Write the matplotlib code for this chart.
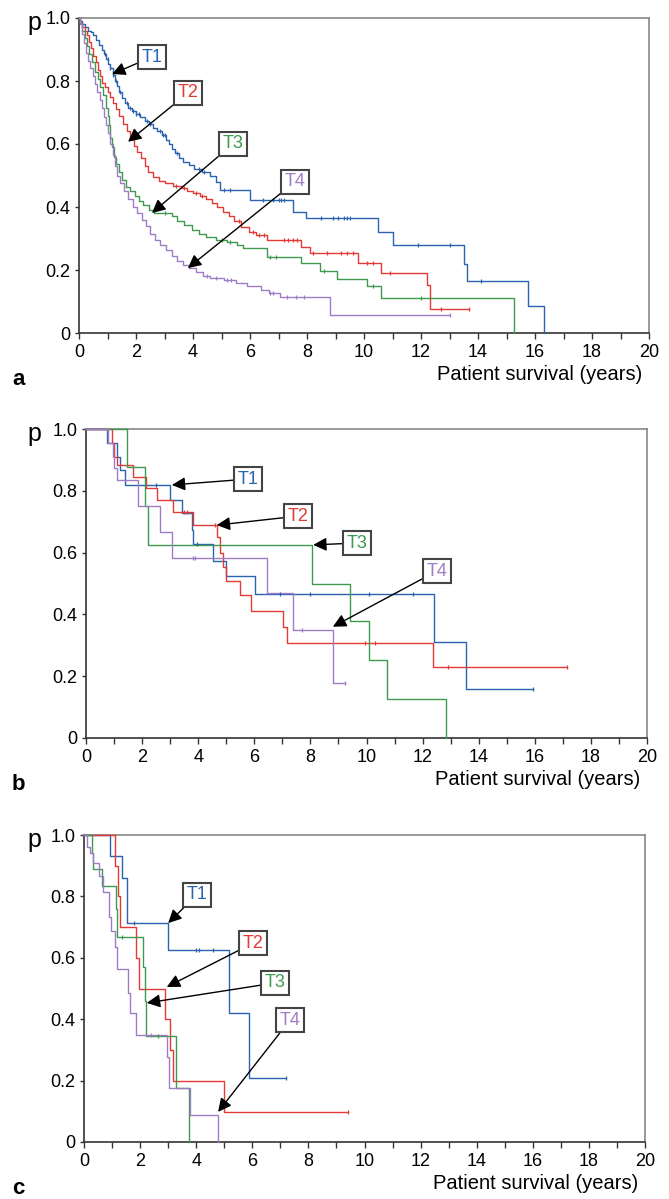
import numpy as np
import matplotlib
matplotlib.use("Agg")
import matplotlib.pyplot as plt
from matplotlib.ticker import MultipleLocator, FuncFormatter

plt.rcParams["font.family"] = ["Liberation Sans", "DejaVu Sans"]

W, H = 669, 1199

GROUPS = ["T1", "T2", "T3", "T4"]
COLORS = {"T1": "#2a64b0", "T2": "#e23a35", "T3": "#3f9a4f", "T4": "#a07cc6"}

# ──────────────────────────────────────────────
# panel a – all patients
# ──────────────────────────────────────────────
a_t1_time = [0.05, 0.12, 0.2, 0.3, 0.42, 0.5, 0.6, 0.7, 0.8, 0.88, 0.95, 1.02, 1.1, 1.18,
             1.25, 1.32, 1.4, 1.5, 1.6, 1.72, 1.85, 2.0, 2.15, 2.3, 2.45, 2.6, 2.75, 2.9,
             3.05, 3.15, 3.28, 3.38, 3.5, 3.65, 3.85, 4.05, 4.3, 4.6, 4.8, 4.95, 6.0, 7.5,
             7.95, 10.5, 11.0, 13.5, 13.6, 15.75, 16.3]
a_t1_surv = [0.99, 0.98, 0.97, 0.96, 0.955, 0.945, 0.93, 0.915, 0.9, 0.885, 0.87, 0.855,
             0.84, 0.82, 0.8, 0.785, 0.765, 0.745, 0.73, 0.715, 0.705, 0.695, 0.685, 0.672,
             0.662, 0.65, 0.64, 0.628, 0.612, 0.6, 0.585, 0.57, 0.555, 0.543, 0.532, 0.52,
             0.51, 0.5, 0.48, 0.455, 0.422, 0.384, 0.365, 0.32, 0.28, 0.22, 0.165, 0.087, 0.0]
a_t1_cens = [0.9, 1.0, 1.1, 1.2, 1.3, 1.45, 1.7, 1.8, 1.9, 2.0, 2.1, 2.4, 2.5, 2.85, 2.95,
             3.0, 3.45, 4.2, 4.4, 5.1, 5.3, 6.45, 6.8, 7.0, 7.1, 7.2, 8.5, 8.9, 9.1, 9.3,
             9.4, 9.5, 11.9, 13.0, 14.1]

a_t2_time = [0.05, 0.12, 0.2, 0.28, 0.35, 0.42, 0.5, 0.58, 0.66, 0.74, 0.82, 0.9, 1.0, 1.1,
             1.2, 1.3, 1.42, 1.55, 1.68, 1.8, 1.92, 2.05, 2.18, 2.3, 2.42, 2.6, 2.8, 3.0,
             3.3, 3.6, 3.8, 4.0, 4.25, 4.45, 4.65, 4.85, 5.05, 5.25, 5.45, 5.7, 5.95, 6.2,
             6.6, 7.8, 8.1, 9.8, 10.6, 12.2, 12.3, 13.7]
a_t2_surv = [0.985, 0.97, 0.96, 0.945, 0.925, 0.905, 0.88, 0.86, 0.835, 0.815, 0.795, 0.78,
             0.765, 0.75, 0.73, 0.71, 0.69, 0.665, 0.64, 0.615, 0.595, 0.575, 0.555, 0.53,
             0.51, 0.495, 0.482, 0.475, 0.468, 0.46, 0.452, 0.444, 0.435, 0.425, 0.412, 0.4,
             0.385, 0.37, 0.355, 0.338, 0.322, 0.31, 0.296, 0.272, 0.254, 0.222, 0.19, 0.152,
             0.076, 0.076]
a_t2_cens = [3.4, 3.7, 4.1, 4.3, 5.6, 6.1, 6.3, 6.5, 7.2, 7.35, 7.5, 7.65, 8.2, 8.7, 9.2,
             9.4, 9.6, 10.1, 10.3, 10.9, 12.7, 13.7]

a_t3_time = [0.05, 0.12, 0.2, 0.28, 0.36, 0.45, 0.55, 0.65, 0.75, 0.85, 0.95, 1.02, 1.06,
             1.1, 1.15, 1.22, 1.3, 1.4, 1.52, 1.65, 1.8, 1.95, 2.1, 2.25, 2.45, 2.62, 3.25,
             3.45, 3.7, 3.95, 4.2, 4.45, 4.8, 5.2, 5.55, 5.75, 6.6, 7.8, 8.46, 9.05, 10.1,
             10.6, 15.25]
a_t3_surv = [0.98, 0.96, 0.935, 0.91, 0.885, 0.86, 0.83, 0.805, 0.78, 0.755, 0.715, 0.69,
             0.66, 0.62, 0.59, 0.56, 0.535, 0.51, 0.485, 0.465, 0.45, 0.435, 0.42, 0.405,
             0.39, 0.38, 0.37, 0.355, 0.342, 0.328, 0.315, 0.305, 0.295, 0.288, 0.28, 0.27,
             0.242, 0.222, 0.197, 0.172, 0.148, 0.111, 0.0]
a_t3_cens = [3.0, 5.0, 5.3, 6.7, 6.9, 8.6, 10.3, 12.0]

a_t4_time = [0.04, 0.1, 0.17, 0.25, 0.33, 0.4, 0.48, 0.56, 0.64, 0.72, 0.8, 0.88, 0.95,
             1.02, 1.1, 1.18, 1.26, 1.35, 1.45, 1.58, 1.72, 1.88, 2.05, 2.2, 2.35, 2.5,
             2.65, 2.85, 3.05, 3.25, 3.45, 3.65, 3.85, 4.1, 4.35, 4.6, 5.1, 5.5, 5.9, 6.4,
             6.65, 7.05, 8.8, 13.0]
a_t4_surv = [0.98, 0.95, 0.92, 0.89, 0.865, 0.84, 0.815, 0.79, 0.765, 0.74, 0.715, 0.685,
             0.66, 0.635, 0.6, 0.565, 0.53, 0.5, 0.475, 0.45, 0.425, 0.4, 0.38, 0.36, 0.34,
             0.315, 0.295, 0.28, 0.262, 0.245, 0.23, 0.215, 0.205, 0.195, 0.182, 0.175, 0.168,
             0.16, 0.15, 0.138, 0.127, 0.114, 0.057, 0.057]
a_t4_cens = [4.5, 4.8, 5.2, 5.35, 6.7, 6.8, 7.3, 7.6, 7.9, 13.0]

# ──────────────────────────────────────────────
# panel b
# ──────────────────────────────────────────────
b_t1_time = [0.75, 1.1, 1.2, 1.39, 3.0, 3.42, 3.78, 3.83, 4.54, 5.0, 6.03, 12.4, 13.55, 15.95]
b_t1_surv = [0.955, 0.91, 0.867, 0.82, 0.77, 0.728, 0.673, 0.628, 0.573, 0.524, 0.466, 0.31,
             0.158, 0.158]
b_t1_cens = [2.5, 3.95, 6.9, 8.0, 10.1, 11.65, 15.95]

b_t2_time = [0.92, 1.0, 1.1, 1.69, 2.13, 2.52, 3.1, 3.83, 4.66, 4.78, 4.9, 5.0, 5.49, 5.9,
             7.03, 7.15, 12.37, 17.15]
b_t2_surv = [0.955, 0.91, 0.883, 0.845, 0.81, 0.77, 0.732, 0.69, 0.65, 0.60, 0.554, 0.507,
             0.462, 0.41, 0.359, 0.307, 0.23, 0.23]
b_t2_cens = [3.5, 3.6, 4.6, 9.95, 10.3, 12.9, 17.15]

b_t3_time = [1.46, 2.1, 2.2, 8.05, 9.4, 10.1, 10.73, 12.83]
b_t3_surv = [0.877, 0.75, 0.625, 0.50, 0.38, 0.252, 0.126, 0.0]
b_t3_cens = []

b_t4_time = [0.8, 0.95, 1.0, 1.1, 1.86, 2.64, 3.07, 6.45, 7.38, 8.8, 9.23]
b_t4_surv = [0.955, 0.91, 0.875, 0.835, 0.75, 0.667, 0.583, 0.47, 0.35, 0.178, 0.178]
b_t4_cens = [3.8, 3.9, 7.7, 9.23]

# ──────────────────────────────────────────────
# panel c
# ──────────────────────────────────────────────
c_t1_time = [0.93, 1.34, 1.52, 3.0, 5.17, 5.9, 7.2]
c_t1_surv = [0.93, 0.86, 0.713, 0.625, 0.42, 0.208, 0.208]
c_t1_cens = [1.77, 4.0, 4.1, 4.6, 7.2]

c_t2_time = [1.1, 1.2, 1.28, 1.85, 1.96, 2.89, 3.07, 3.18, 4.99, 9.41]
c_t2_surv = [0.90, 0.80, 0.70, 0.60, 0.50, 0.40, 0.30, 0.20, 0.098, 0.098]
c_t2_cens = [9.41]

c_t3_time = [0.28, 0.33, 0.63, 1.13, 1.18, 2.1, 2.18, 2.21, 3.28, 3.76]
c_t3_surv = [0.94, 0.89, 0.833, 0.76, 0.667, 0.57, 0.46, 0.345, 0.175, 0.0]
c_t3_cens = [1.35, 2.65]

c_t4_time = [0.1, 0.2, 0.33, 0.53, 0.68, 0.89, 0.95, 1.1, 1.18, 1.57, 1.64, 1.85, 2.97,
             3.03, 3.78, 4.78]
c_t4_surv = [0.96, 0.94, 0.91, 0.865, 0.814, 0.733, 0.688, 0.636, 0.563, 0.485, 0.42, 0.35,
             0.277, 0.175, 0.088, 0.0]
c_t4_cens = [2.4]

X_TICKS = [0, 2, 4, 6, 8, 10, 12, 14, 16, 18, 20]
Y_TICKS = [0, 0.2, 0.4, 0.6, 0.8, 1.0]
X_LABEL = "Patient survival (years)"

PANEL_DATA = {
    "a": [(a_t1_time, a_t1_surv, a_t1_cens), (a_t2_time, a_t2_surv, a_t2_cens),
          (a_t3_time, a_t3_surv, a_t3_cens), (a_t4_time, a_t4_surv, a_t4_cens)],
    "b": [(b_t1_time, b_t1_surv, b_t1_cens), (b_t2_time, b_t2_surv, b_t2_cens),
          (b_t3_time, b_t3_surv, b_t3_cens), (b_t4_time, b_t4_surv, b_t4_cens)],
    "c": [(c_t1_time, c_t1_surv, c_t1_cens), (c_t2_time, c_t2_surv, c_t2_cens),
          (c_t3_time, c_t3_surv, c_t3_cens), (c_t4_time, c_t4_surv, c_t4_cens)],
}

# layout: axes box in pixels (left, right, top, bottom)
PANEL_BOX = {"a": (79, 649, 18, 333), "b": (86, 647, 429, 738), "c": (84, 645, 835, 1142)}

# label box (x, y) and arrow tip (x, y) in data coords
ANNOT = {
    "a": [((2.55, 0.876), (1.16, 0.822)), ((3.82, 0.762), (1.72, 0.607)),
          ((5.4, 0.60), (2.56, 0.381)), ((7.58, 0.48), (3.82, 0.206))],
    "b": [((5.78, 0.838), (3.06, 0.819)), ((7.55, 0.718), (4.66, 0.689)),
          ((9.67, 0.631), (8.1, 0.625)), ((12.5, 0.54), (8.8, 0.36))],
    "c": [((4.02, 0.805), (3.0, 0.713)), ((6.03, 0.648), (2.95, 0.505)),
          ((6.8, 0.518), (2.24, 0.453)), ((7.34, 0.397), (4.78, 0.098))],
}


def surv_at(times, surv, x):
    idx = np.searchsorted(times, x, side="right") - 1
    return 1.0 if idx < 0 else surv[idx]


def draw_curve(ax, times, surv, cens, color):
    x = np.r_[0.0, times]
    y = np.r_[1.0, surv]
    ax.step(x, y, where="post", color=color, lw=1.0, clip_on=False, zorder=3)
    if cens:
        ys = [surv_at(times, surv, c) for c in cens]
        ax.plot(cens, ys, ls="none", marker="|", ms=3, mew=0.9, color=color, zorder=4)


fig = plt.figure(figsize=(W / 100, H / 100), dpi=100)

for key in ["a", "b", "c"]:
    l, r, t, b = PANEL_BOX[key]
    ax = fig.add_axes([l / W, 1 - b / H, (r - l) / W, (b - t) / H])
    ax.set_xlim(0, 20)
    ax.set_ylim(0, 1)

    for g, (tm, sv, cs) in zip(GROUPS, PANEL_DATA[key]):
        draw_curve(ax, tm, sv, cs, COLORS[g])

    for g, ((bx, by), (tx, ty)) in zip(GROUPS, ANNOT[key]):
        ax.annotate(
            g, xy=(tx, ty), xytext=(bx, by), ha="center", va="center",
            fontsize=13, color=COLORS[g], zorder=6,
            bbox=dict(boxstyle="square,pad=0.2", fc="white", ec="#444444", lw=1.5),
            arrowprops=dict(arrowstyle="-|>", color="black", lw=1.0,
                            mutation_scale=20, shrinkA=0, shrinkB=0),
        )

    # axes style
    for side in ["left", "bottom"]:
        ax.spines[side].set_color("#333333")
        ax.spines[side].set_linewidth(1.2)
    for side in ["top", "right"]:
        ax.spines[side].set_color("#888888")
        ax.spines[side].set_linewidth(1.2)

    ax.set_xticks(X_TICKS)
    ax.xaxis.set_minor_locator(MultipleLocator(1))
    ax.set_yticks(Y_TICKS)
    ax.yaxis.set_major_formatter(FuncFormatter(lambda v, _: "0" if v == 0 else f"{v:.1f}"))
    ax.tick_params(axis="x", which="both", direction="out", length=4, width=1,
                   color="#333333", labelsize=13, pad=4)
    ax.tick_params(axis="y", which="both", direction="out", length=3, width=1,
                   color="#333333", labelsize=13, pad=3)

    # "p" label and panel letter / x-label in pixel offsets
    fig.text(34 / W, 1 - (t + 12) / H, "p", fontsize=18, ha="center", va="baseline")
    fig.text(r / W - 7 / W, 1 - (b + 47) / H, X_LABEL, fontsize=14.5,
             ha="right", va="baseline")
    fig.text(12 / W, 1 - (b + 52) / H, key, fontsize=16, fontweight="bold",
             ha="left", va="baseline")

fig.savefig("out.png", dpi=100)
